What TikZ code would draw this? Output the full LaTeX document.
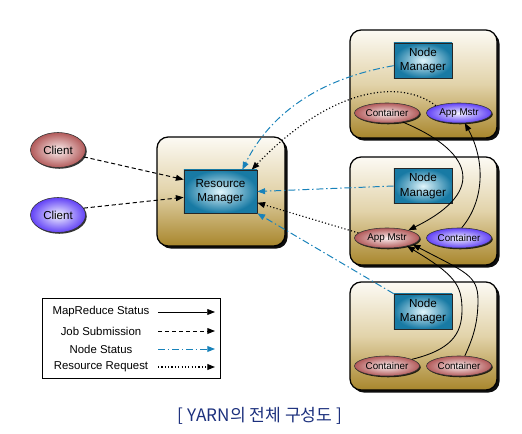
\documentclass[tikz,border=0pt]{standalone}
\usepackage{fontspec}
\setmainfont{Liberation Sans}
\newfontfamily\krfont{Noto Sans CJK KR}
\usetikzlibrary{shadows,arrows.meta,shapes.geometric}

\definecolor{hosttop}{RGB}{252,250,244}
\definecolor{hostmid}{RGB}{226,211,170}
\definecolor{hostbot}{RGB}{168,134,44}
\definecolor{mgrin}{RGB}{225,246,252}
\definecolor{mgrout}{RGB}{24,122,164}
\definecolor{redin}{RGB}{252,240,240}
\definecolor{redout}{RGB}{178,90,90}
\definecolor{bluein}{RGB}{244,244,255}
\definecolor{blueout}{RGB}{98,66,246}
\definecolor{nsblue}{RGB}{24,130,186}
\definecolor{captxt}{RGB}{28,48,125}

\tikzset{
	host/.style={draw=black, line width=0.9pt, rounded corners=8pt,
		top color=hosttop, bottom color=hostbot, middle color=hostmid,
		drop shadow={shadow xshift=1.8pt, shadow yshift=-1.8pt, fill=black, opacity=0.95}},
	mgr/.style={draw=black!85, line width=0.5pt, inner color=mgrin, outer color=mgrout,
		align=center, inner sep=0pt, minimum width=1.45cm, minimum height=0.875cm,
		font=\fontsize{8.3}{10}\selectfont},
	oval/.style={ellipse, draw=black!80, line width=0.4pt, inner sep=0pt,
		minimum width=1.625cm, minimum height=0.5cm, font=\fontsize{7}{8}\selectfont,
		drop shadow={shadow xshift=0.9pt, shadow yshift=-0.9pt, fill=black, opacity=0.8}},
	redov/.style={oval, inner color=redin, outer color=redout},
	blueov/.style={oval, inner color=bluein, outer color=blueout},
	client/.style={minimum width=1.375cm, minimum height=0.875cm, font=\fontsize{8.2}{10}\selectfont},
	legendbox/.style={draw=black, line width=0.6pt, fill=white, minimum width=4.45cm, minimum height=2cm,
		drop shadow={shadow xshift=1pt, shadow yshift=-1pt, fill=black, opacity=0.9}},
	legtext/.style={font=\fontsize{8.1}{10}\selectfont, inner sep=1pt},
	tip/.style={-{Triangle[length=5.5pt,width=4.2pt]}},
	mrline/.style={tip, black, line width=0.6pt},
	jobline/.style={tip, black, line width=0.7pt, dash pattern=on 3pt off 2pt},
	nsline/.style={tip, nsblue, line width=0.7pt, dash pattern=on 5pt off 2pt on 1pt off 2pt},
	rrline/.style={tip, black, line width=0.8pt, dash pattern=on 0.8pt off 1.6pt}
}

\begin{document}
\begin{tikzpicture}[x=0.025cm, y=-0.025cm]
			%%%%% START %%%%%
			\useasboundingbox (0,0) rectangle (522,434);
			
			\node[host, minimum width=3.675cm, minimum height=2.7cm] (host1) at (423.5,84) {};
			\node[host, minimum width=3.675cm, minimum height=2.7cm] (host2) at (423.5,211) {};
			\node[host, minimum width=3.675cm, minimum height=2.7cm] (host3) at (423.5,336) {};
			\node[host, minimum width=3.2cm, minimum height=2.725cm] (rmhost) at (221,191.5) {};
			
			\node[mgr] (nm1) at (423,60.5) {Node\\Manager};
			\node[mgr] (nm2) at (423,186) {Node\\Manager};
			\node[mgr] (nm3) at (423,311.5) {Node\\Manager};
			\node[mgr, minimum width=1.825cm, minimum height=1.075cm] (rm) at (220.5,191.5) {Resource\\Manager};
			
			\node[redov] (c1) at (387,113) {Container};
			\node[blueov] (am1) at (459,113) {App Mstr};
			\node[redov] (am2) at (387,238) {App Mstr};
			\node[blueov] (c2) at (459,238) {Container};
			\node[redov] (c3a) at (387,366) {Container};
			\node[redov] (c3b) at (459,366) {Container};
			
			\node[redov, client] (cl1) at (58,150) {Client};
			\node[blueov, client] (cl2) at (58,215) {Client};
			
			% job submission
			\draw[jobline] (cl1.-15) -- (rm.162);
			\draw[jobline] (cl2.15) -- (rm.189);
			
			% node status
			\draw[nsline] (nm1.190) .. controls (300,82) and (262,130) .. (rm.45);
			\draw[nsline] (nm2.west) -- (rm.east);
			\draw[nsline] (nm3.north west) -- (rm.south east);
			
			% resource request
			\draw[rrline] (am1.north west) .. controls (400,78) and (330,88) .. (rm.35);
			\draw[rrline] (am2.170) -- (rm.-17);
			
			% mapreduce status
			\draw[mrline] (c1.-30) .. controls (470,150) and (490,190) .. (am2.20);
			\draw[mrline] (c2.75) .. controls (485,200) and (485,160) .. (am1.-60);
			\draw[mrline] (c3a.15) .. controls (450,350) and (462,335) .. (462,310)
				.. controls (462,285) and (455,275) .. (am2.-22);
			\draw[mrline] (c3b.60) .. controls (472,340) and (478,325) .. (478,300)
				.. controls (478,275) and (465,272) .. (am2.-14);
			
			% legend
			\node[legendbox] (legend) at (131,338) {};
			\node[legtext] (lmr) at (101,312) {MapReduce Status};
			\node[legtext] (ljob) at (101,331) {Job Submission};
			\node[legtext] (lns) at (101,349) {Node Status};
			\node[legtext] (lrr) at (101,367) {Resource Request};
			\coordinate (lmr-s) at (158,312);  \coordinate (lmr-e) at (215,312);
			\coordinate (ljob-s) at (158,331); \coordinate (ljob-e) at (215,331);
			\coordinate (lns-s) at (158,349);  \coordinate (lns-e) at (215,349);
			\coordinate (lrr-s) at (158,367);  \coordinate (lrr-e) at (215,367);
			\draw[mrline] (lmr-s) -- (lmr-e);
			\draw[jobline] (ljob-s) -- (ljob-e);
			\draw[nsline] (lns-s) -- (lns-e);
			\draw[rrline] (lrr-s) -- (lrr-e);
			
			\node[font=\krfont\fontsize{12.2}{14}\selectfont, text=captxt] (caption) at (260,416) {[ YARN의 전체 구성도 ]};
			
			%%%%% END %%%%%
\end{tikzpicture}
\end{document}
